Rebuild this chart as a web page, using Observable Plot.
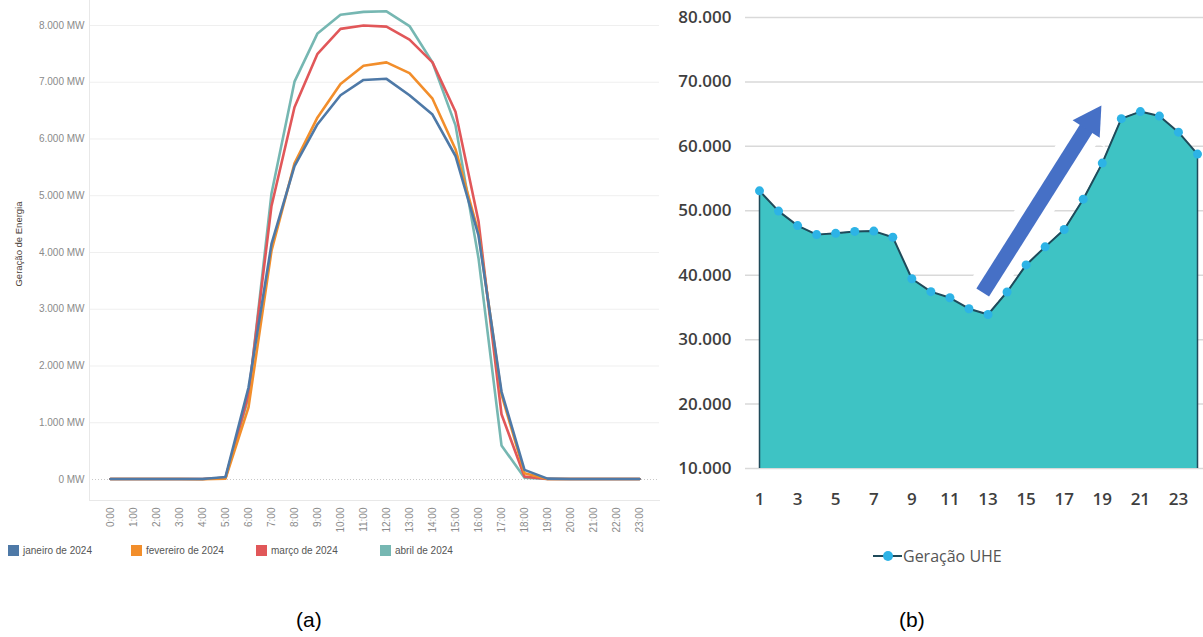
<!DOCTYPE html>
<html>
<head>
<meta charset="utf-8">
<script src="https://cdn.jsdelivr.net/npm/d3@7"></script>
<script src="https://cdn.jsdelivr.net/npm/@observablehq/plot@0.6"></script>
<style>
  html, body { margin: 0; padding: 0; background: #fff; }
  #root { position: relative; width: 1203px; height: 637px; overflow: hidden; background: #fff; }
  #panelA { position: absolute; left: 0; top: 0; }
  #panelB { position: absolute; left: 660px; top: 0; }
  .legA { position: absolute; top: 545px; font-family: "Liberation Sans", Arial, sans-serif; font-size: 10px; color: #555; display: flex; align-items: center; }
  .legA .sw { width: 11px; height: 11px; margin-right: 4px; }
  .cap { position: absolute; top: 608px; font-family: "Liberation Sans", Arial, sans-serif; font-size: 21px; color: #000; }
  #legB { position: absolute; left: 873px; top: 545px; font-family: "Open Sans", sans-serif; font-size: 16px; color: #555; display: flex; align-items: center; }
  #legB .sym { position: relative; width: 29px; height: 20px; margin-right: 1px; }
  #legB .sym .ln { position: absolute; left: 0; top: 9px; width: 29px; height: 2px; background: #1f4a5a; }
  #legB .sym .pt { position: absolute; left: 10px; top: 5px; width: 10px; height: 10px; border-radius: 50%; background: #2db3e6; }
  #ylabA { position: absolute; left: 13px; top: 244px; transform: translate(-50%, -50%) rotate(-90deg); transform-origin: center; font-family: "Liberation Sans", Arial, sans-serif; font-size: 9.5px; color: #4a4037; white-space: nowrap; }
</style>
</head>
<body>
<div id="root">
  <div id="panelA"></div>
  <div id="panelB"></div>
  <div id="ylabA" style="left:18px">Geração de Energia</div>
  <div id="legendA"></div>
  <div id="legB"><div class="sym"><div class="ln"></div><div class="pt"></div></div>Geração UHE</div>
  <div class="cap" style="left:296px">(a)</div>
  <div class="cap" style="left:899px">(b)</div>
</div>
<script>
// ---------- Panel (a) data ----------
const hours = ["0:00","1:00","2:00","3:00","4:00","5:00","6:00","7:00","8:00","9:00","10:00","11:00",
               "12:00","13:00","14:00","15:00","16:00","17:00","18:00","19:00","20:00","21:00","22:00","23:00"];
const seriesNames = ["janeiro de 2024", "fevereiro de 2024", "março de 2024", "abril de 2024"];
const janeiro   = [10,10,10,10,10,45,1620,4150,5520,6260,6770,7040,7060,6770,6430,5700,4300,1550,170,15,10,10,10,10];
const fevereiro = [10,10,10,10,5,15,1270,4030,5570,6380,6970,7290,7350,7160,6710,5820,4350,1500,110,10,10,10,10,10];
const marco     = [10,10,10,10,10,30,1500,4820,6560,7500,7940,8000,7980,7750,7350,6480,4550,1150,50,10,10,10,10,10];
const abril     = [10,10,10,10,10,30,1450,5040,7010,7860,8190,8240,8250,7990,7350,6240,3900,600,30,10,10,10,10,10];
const yTicksA = [0,1000,2000,3000,4000,5000,6000,7000,8000];
const colorsA = ["#4e79a7", "#f28e2b", "#e15759", "#76b7b2"];

// ---------- Panel (b) data ----------
const horasB = [1,2,3,4,5,6,7,8,9,10,11,12,13,14,15,16,17,18,19,20,21,22,23,24];
const geracaoUHE = [53100,49950,47700,46300,46500,46800,46850,45900,39450,37450,36500,34800,33900,37400,41600,44400,47100,51800,57400,64300,65400,64700,62200,58800];
const yTicksB = [10000,20000,30000,40000,50000,60000,70000,80000];
const xTicksB = [1,3,5,7,9,11,13,15,17,19,21,23];
// annotation arrow (tail -> head base), and head position, in data units
const arrowShaft = [{x1: 12.72, y1: 37300, x2: 18.17, y2: 62800}];
const arrowHead = [{x: 18.42, y: 63900}];

// ---------- build panel (a) ----------
const seriesVals = [janeiro, fevereiro, marco, abril];
const rowsA = [];
for (let i = seriesNames.length - 1; i >= 0; i--) {
  hours.forEach((h, j) => rowsA.push({hour: h, value: seriesVals[i][j], series: seriesNames[i]}));
}
const fmtA = d => (d === 0 ? "0" : d3.format(",")(d).replace(/,/g, ".")) + " MW";

const plotA = Plot.plot({
  width: 665, height: 540,
  marginLeft: 89, marginRight: 6, marginTop: 0, marginBottom: 40,
  style: {fontFamily: "Liberation Sans, Arial, sans-serif", fontSize: "10px", color: "#8a8a8a", background: "transparent", overflow: "visible"},
  x: {type: "point", domain: hours, padding: 0.5, label: null},
  y: {domain: [-370, 8440], label: null},
  color: {domain: seriesNames, range: colorsA},
  marks: [
    Plot.ruleY(yTicksA.filter(d => d > 0), {stroke: "#efefef", strokeWidth: 1}),
    Plot.ruleY([0], {stroke: "#c8c8c8", strokeDasharray: "1,2"}),
    Plot.frame({anchor: "left", stroke: "#e8e8e8"}),
    Plot.frame({anchor: "bottom", stroke: "#e8e8e8"}),
    Plot.axisY({ticks: yTicksA, tickSize: 0, tickPadding: 5, tickFormat: fmtA, label: null}),
    Plot.axisX({tickRotate: -90, tickSize: 0, tickPadding: 7, label: null}),
    Plot.line(rowsA, {x: "hour", y: "value", stroke: "series", z: "series", strokeWidth: 2.6})
  ]
});
document.getElementById("panelA").appendChild(plotA);

// legend (a)
const legPos = [8, 131, 256, 380];
const legendA = document.getElementById("legendA");
seriesNames.forEach((s, i) => {
  const d = document.createElement("div");
  d.className = "legA";
  d.style.left = legPos[i] + "px";
  d.innerHTML = `<div class="sw" style="background:${colorsA[i]}"></div>${s}`;
  legendA.appendChild(d);
});

// ---------- build panel (b) ----------
const rowsB = horasB.map((h, i) => ({h, v: geracaoUHE[i]}));
const endsB = [rowsB[0], rowsB[rowsB.length - 1]];
const fmtB = d => d3.format(",")(d).replace(/,/g, ".");
const arrowColor = "#4670c6";

const plotB = Plot.plot({
  width: 543, height: 520,
  marginLeft: 99, marginRight: 6, marginTop: 17, marginBottom: 52,
  style: {fontFamily: "Open Sans, sans-serif", fontSize: "17px", fontWeight: 600, color: "#3f3f3f", background: "transparent"},
  x: {domain: [1, 24], label: null},
  y: {domain: [10000, 80000], label: null},
  marks: [
    Plot.ruleY(yTicksB, {stroke: "#d9d9d9", strokeWidth: 1.5, insetLeft: -14, insetRight: -6}),
    Plot.areaY(rowsB, {x: "h", y1: 10000, y2: "v", fill: "#3ec3c4"}),
    Plot.ruleX(endsB, {x: "h", y1: 10000, y2: "v", stroke: "#1f4a5a", strokeWidth: 1.5}),
    Plot.line(rowsB, {x: "h", y: "v", stroke: "#1f4a5a", strokeWidth: 2}),
    Plot.link(arrowShaft, {x1: "x1", y1: "y1", x2: "x2", y2: "y2", stroke: "white", strokeWidth: 34}),
    Plot.dot(arrowHead, {x: "x", y: "y", symbol: "triangle", r: 19, rotate: 33, fill: "white"}),
    Plot.dot(rowsB, {x: "h", y: "v", r: 4.5, fill: "#2db3e6"}),
    Plot.link(arrowShaft, {x1: "x1", y1: "y1", x2: "x2", y2: "y2", stroke: arrowColor, strokeWidth: 15}),
    Plot.dot(arrowHead, {x: "x", y: "y", symbol: "triangle", r: 12, rotate: 33, fill: arrowColor}),
    Plot.axisY({ticks: yTicksB, tickSize: 0, tickPadding: 28, tickFormat: fmtB, label: null}),
    Plot.axisX({ticks: xTicksB, tickSize: 0, tickPadding: 24, tickFormat: d => String(d), label: null})
  ]
});
document.getElementById("panelB").appendChild(plotB);
</script>
</body>
</html>
